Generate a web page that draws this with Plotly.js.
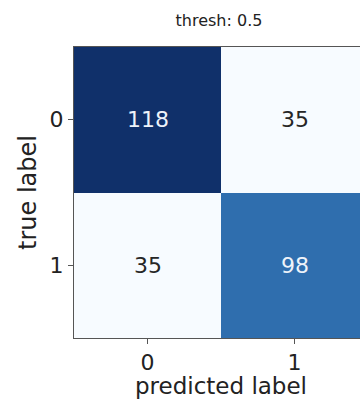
<!DOCTYPE html>
<html><head><meta charset="utf-8">
<script src="https://cdn.plot.ly/plotly-3.0.1.min.js"></script>
<style>html,body{margin:0;padding:0;overflow:hidden;background:#fff;}#chart{width:400px;height:399px;}</style>
</head><body><div id="chart"></div>
<script>
const predictedLabels = ["0", "1"];
const trueLabels = ["0", "1"];
const counts = [[118, 35], [35, 98]];
const titleText = "thresh: 0.5";

const blues = [[0,"#f7fbff"],[0.125,"#deebf7"],[0.25,"#c6dbef"],[0.375,"#9ecae1"],[0.5,"#6baed6"],[0.625,"#4292c6"],[0.75,"#3170b0"],[0.875,"#15509a"],[1,"#10306a"]];
const flat = counts.flat();
const zmin = Math.min(...flat), zmax = Math.max(...flat);
const annotations = [];
trueLabels.forEach((t, i) => predictedLabels.forEach((p, j) => {
  const v = counts[i][j];
  annotations.push({x: p, y: t, xref: "x", yref: "y", text: String(v), showarrow: false,
    font: {family: "DejaVu Sans", size: 22, color: (v - zmin) / (zmax - zmin) > 0.5 ? "#eef3fa" : "#262626"}});
}));

const axisBase = {type: "category", showline: true, linecolor: "#555", linewidth: 1, mirror: true, ticks: "outside", ticklen: 5, tickcolor: "#555",
  showgrid: false, zeroline: false, tickfont: {family: "DejaVu Sans", size: 22, color: "#222"}};

Plotly.newPlot("chart", [{
  type: "heatmap", x: predictedLabels, y: trueLabels, z: counts, colorscale: blues,
  zmin: zmin, zmax: zmax, showscale: false, xgap: 0, ygap: 0, hoverinfo: "skip"
}], {
  width: 400, height: 399,
  margin: {l: 74, r: 32, t: 47, b: 61},
  paper_bgcolor: "#fff", plot_bgcolor: "#fff",
  title: {text: titleText, font: {family: "DejaVu Sans", size: 16, color: "#222"}, x: 219/400, xanchor: "center", y: 1 - 20/399, yanchor: "middle"},
  xaxis: Object.assign({}, axisBase, {title: {text: "predicted label", font: {family: "DejaVu Sans", size: 23, color: "#222"}, standoff: 3}}),
  yaxis: Object.assign({}, axisBase, {autorange: "reversed", title: {text: "true label", font: {family: "DejaVu Sans", size: 24, color: "#222"}, standoff: 6}}),
  annotations: annotations
}, {displayModeBar: false, staticPlot: true});
</script></body></html>
